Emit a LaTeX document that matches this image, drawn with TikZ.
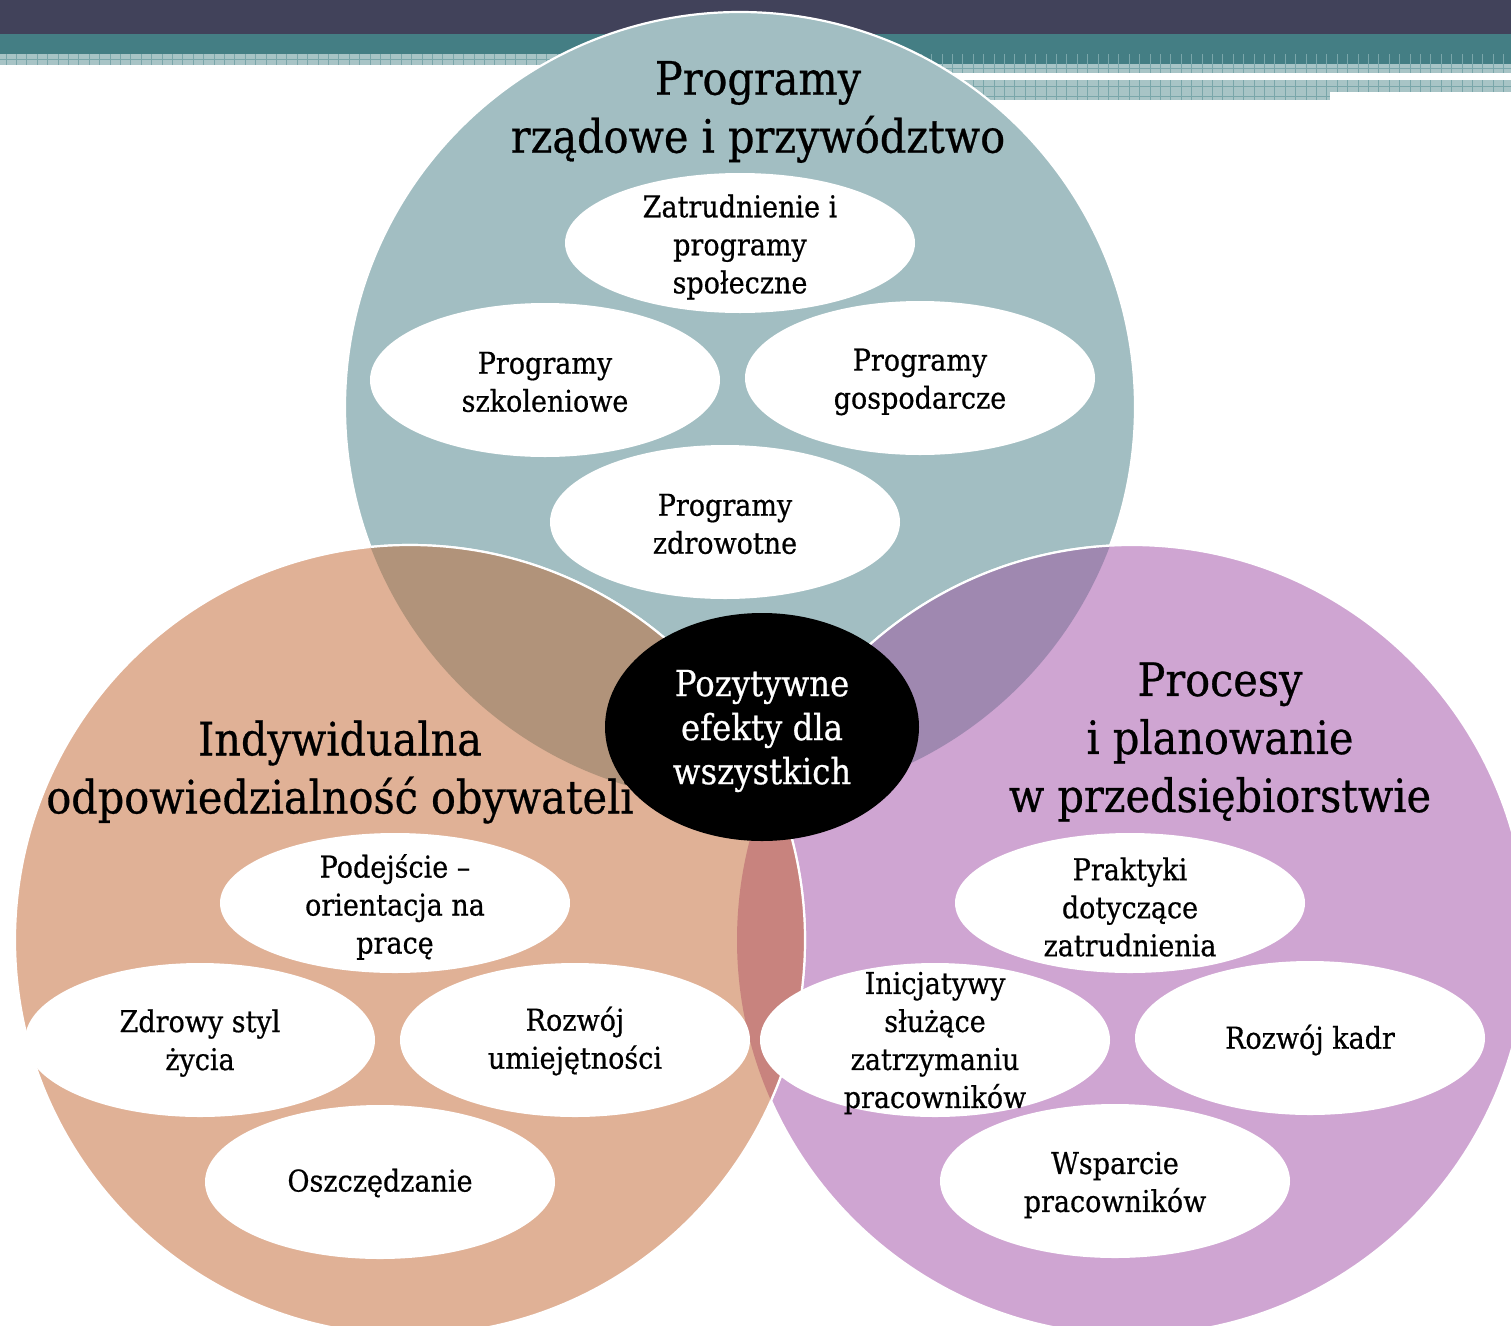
\documentclass[tikz,border=0pt]{standalone}
\usepackage{fontspec}
\setmainfont[FakeStretch=0.9,FakeBold=0.6]{DejaVu Serif}
\usetikzlibrary{shapes.geometric}
\definecolor{hdark}{HTML}{41425A}
\definecolor{hteal}{HTML}{447E84}
\definecolor{hcheck}{HTML}{A8C4C6}
\definecolor{hline}{HTML}{7AA6AA}
\definecolor{ctop}{HTML}{A2BEC2}
\definecolor{cleft}{HTML}{E0B196}
\definecolor{cright}{HTML}{CFA5D2}
\definecolor{otl}{HTML}{B1937A}
\definecolor{otr}{HTML}{9F88B0}
\definecolor{olr}{HTML}{C8837E}
\tikzset{
  bubble/.style={ellipse, fill=white, inner sep=0pt, minimum width=350pt, minimum height=#1},
  bubble/.default=154pt,
  btext/.style={align=center, font=\fontsize{30}{38}\selectfont, inner sep=0pt},
  ttext/.style={align=center, font=\fontsize{46}{58}\selectfont, inner sep=0pt},
  ctext/.style={align=center, font=\fontsize{36}{44}\selectfont, text=white, inner sep=0pt},
  rim/.style={draw=white, line width=2.2pt}
}
\begin{document}
\begin{tikzpicture}[x=1pt,y=-1pt]
\clip (0,0) rectangle (1511,1325);
\fill[white] (0,0) rectangle (1511,1325);
% header bands
\fill[hdark] (0,0) rectangle (1511,34);
\fill[hteal] (0,34) rectangle (760,54);
\fill[hteal] (760,34) rectangle (1511,64);
\fill[hcheck] (0,54) rectangle (760,65);
\fill[hcheck] (760,64) rectangle (1511,73);
\fill[hcheck] (760,80) rectangle (1330,100);
\fill[hcheck] (1330,80) rectangle (1511,92);
\foreach \i in {0,...,146} {
  \draw[hline, line width=0.7pt] (6+\i*10.4,54) -- (6+\i*10.4,65);
}
\foreach \i in {70,...,146} {
  \draw[hline, line width=0.7pt] (6+\i*10.4,64) -- (6+\i*10.4,73);
  \draw[hline, line width=0.7pt] (6+\i*10.4,80) -- (6+\i*10.4,92);
}
\foreach \i in {70,...,127} {
  \draw[hline, line width=0.7pt] (6+\i*10.4,92) -- (6+\i*10.4,100);
}
\draw[hline, line width=0.5pt] (0,59.5) -- (760,59.5);
\draw[hline, line width=0.5pt] (760,68.5) -- (1511,68.5);
\draw[hline, line width=0.5pt] (760,86) -- (1511,86);
\draw[hline, line width=0.5pt] (760,96) -- (1330,96);
% circles
\coordinate (ct) at (740,407);
\coordinate (cl) at (410,940);
\coordinate (cr) at (1132,940);
\fill[ctop, rim] (ct) circle [radius=395];
\fill[cright, rim] (cr) circle [radius=395];
\fill[cleft, rim] (cl) circle [radius=395];
\begin{scope}
  \clip (ct) circle [radius=395];
  \fill[otl] (cl) circle [radius=395];
  \fill[otr] (cr) circle [radius=395];
  \draw[white, line width=2.2pt] (cr) circle [radius=395];
  \draw[white, line width=2.2pt] (cl) circle [radius=395];
\end{scope}
\begin{scope}
  \clip (cr) circle [radius=395];
  \fill[olr] (cl) circle [radius=395];
  \draw[white, line width=2.2pt] (cl) circle [radius=395];
\end{scope}
% titles
\node[ttext] (t1) at (758,112) {Programy\\rządowe i przywództwo};
\node[ttext] (t2) at (340,772) {Indywidualna\\odpowiedzialność obywateli};
\node[ttext] (t3) at (1220,742) {Procesy\\i planowanie\\w przedsiębiorstwie};
% top bubbles
\node[bubble=140pt] (a1) at (740,243) {};
\node[bubble] (a2) at (545,380) {};
\node[bubble] (a3) at (920,378) {};
\node[bubble] (a4) at (725,522) {};
\node[btext] (a1t) at (740,247) {Zatrudnienie i\\programy\\społeczne};
\node[btext] (a2t) at (545,382) {Programy\\szkoleniowe};
\node[btext] (a3t) at (920,382) {Programy\\gospodarcze};
\node[btext] (a4t) at (725,524) {Programy\\zdrowotne};
% left bubbles
\node[bubble=140pt] (b1) at (395,903) {};
\node[bubble] (b2) at (200,1040) {};
\node[bubble] (b3) at (575,1040) {};
\node[bubble] (b4) at (380,1182) {};
\node[btext] (b1t) at (395,907) {Podejście –\\orientacja na\\pracę};
\node[btext] (b2t) at (200,1043) {Zdrowy styl\\życia};
\node[btext] (b3t) at (575,1041) {Rozwój\\umiejętności};
\node[btext] (b4t) at (380,1183) {Oszczędzanie};
% right bubbles
\node[bubble=140pt] (c1) at (1130,903) {};
\node[bubble] (c2) at (935,1040) {};
\node[bubble] (c3) at (1310,1038) {};
\node[bubble] (c4) at (1115,1181) {};
\node[btext] (c1t) at (1130,907) {Praktyki\\dotyczące\\zatrudnienia};
\node[btext] (c2t) at (935,1043) {Inicjatywy\\służące\\zatrzymaniu\\pracowników};
\node[btext] (c3t) at (1310,1040) {Rozwój kadr};
\node[btext] (c4t) at (1115,1185) {Wsparcie\\pracowników};
% centre
\node[ellipse, fill=black, inner sep=0pt, minimum width=314pt, minimum height=228pt] (m) at (762,727) {};
\node[ctext] (mt) at (762,731) {Pozytywne\\efekty dla\\wszystkich};
\end{tikzpicture}
\end{document}
